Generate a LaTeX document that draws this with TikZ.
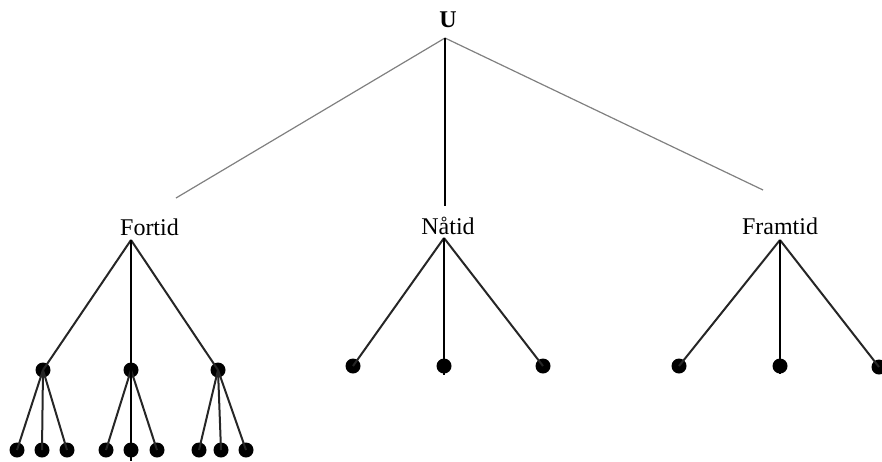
\documentclass[tikz,border=0pt]{standalone}
\usepackage{fontspec}
\setmainfont{Liberation Serif}

\begin{document}
\begin{tikzpicture}[x=0.5pt,y=-0.5pt,
    dot/.style={circle, fill=black, inner sep=0pt, minimum size=7.5pt},
    lbl/.style={font=\fontsize{12}{14}\selectfont},
    faint/.style={draw=black!50, line width=0.6pt},
    branch/.style={draw=black!85, line width=1pt},
    stem/.style={draw=black, line width=1.3pt}]
    \useasboundingbox (0,0) rectangle (882,461);
    % Top
    \node[font=\fontsize{12}{14}\selectfont\bfseries] (U) at (448,20) {U};
    \coordinate (ua) at (445,38);
    \coordinate (uleft) at (176,198);
    \coordinate (uright) at (763,190);
    \coordinate (umid) at (445,206);
    \draw[faint] (ua) -- (uleft);
    \draw[faint] (ua) -- (uright);
    \draw[stem] (ua) -- (umid);
    % Tense labels
    \node[lbl] (fortid) at (149.5,227) {Fortid};
    \node[lbl] (natid) at (448,226) {Nåtid};
    \node[lbl] (framtid) at (780,226) {Framtid};
    \coordinate (fa) at (131,240);
    \coordinate (na) at (444,238);
    \coordinate (ra) at (780,240);
    % Fortid
    \node[dot] (f1) at (43,370) {};
    \node[dot] (f2) at (131,370) {};
    \node[dot] (f3) at (218,370) {};
    \node[dot] (f11) at (17,450) {};
    \node[dot] (f12) at (42,450) {};
    \node[dot] (f13) at (67,450) {};
    \node[dot] (f21) at (106,450) {};
    \node[dot] (f22) at (131,450) {};
    \node[dot] (f23) at (157,450) {};
    \node[dot] (f31) at (199,450) {};
    \node[dot] (f32) at (221,450) {};
    \node[dot] (f33) at (246,450) {};
    \coordinate (fend) at (131,461);
    \draw[branch] (fa) -- (f1.center);
    \draw[branch] (fa) -- (f3.center);
    \draw[branch] (f1.center) -- (f11.center);
    \draw[branch] (f1.center) -- (f12.center);
    \draw[branch] (f1.center) -- (f13.center);
    \draw[branch] (f2.center) -- (f21.center);
    \draw[branch] (f2.center) -- (f23.center);
    \draw[branch] (f3.center) -- (f31.center);
    \draw[branch] (f3.center) -- (f32.center);
    \draw[branch] (f3.center) -- (f33.center);
    \draw[stem] (fa) -- (fend);
    % Nåtid
    \node[dot] (n1) at (353,366) {};
    \node[dot] (n2) at (444,366) {};
    \node[dot] (n3) at (543,366) {};
    \coordinate (nend) at (444,375);
    \draw[branch] (na) -- (n1.center);
    \draw[branch] (na) -- (n3.center);
    \draw[stem] (na) -- (nend);
    % Framtid
    \node[dot] (r1) at (679,366) {};
    \node[dot] (r2) at (780,366) {};
    \node[dot] (r3) at (879,367) {};
    \coordinate (rend) at (780,374);
    \draw[branch] (ra) -- (r1.center);
    \draw[branch] (ra) -- (r3.center);
    \draw[stem] (ra) -- (rend);
\end{tikzpicture}
\end{document}
